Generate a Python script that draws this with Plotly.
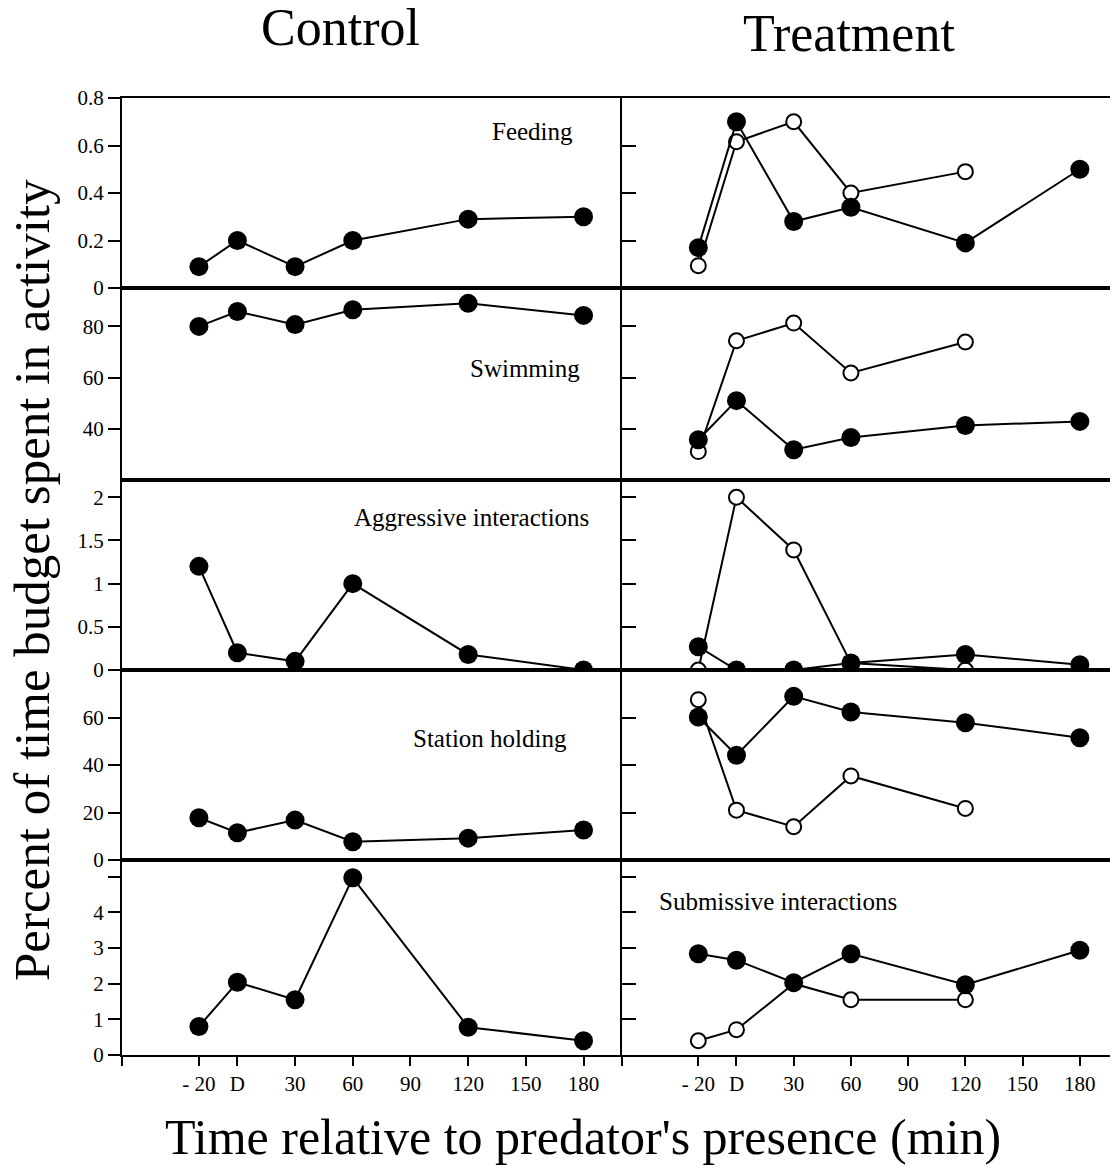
import plotly.graph_objects as go

# ---- data ----
times = [-20, 0, 30, 60, 120, 180]
times_open = [-20, 0, 30, 60, 120]
tick_vals = [-60, -20, 0, 30, 60, 90, 120, 150, 180]
tick_text = ["", "- 20", "D", "30", "60", "90", "120", "150", "180"]

panel_names = ["Feeding", "Swimming", "Aggressive interactions", "Station holding", "Submissive interactions"]

control_feeding = [0.09, 0.2, 0.09, 0.2, 0.29, 0.3]
control_swimming = [80, 85.8, 80.7, 86.5, 89, 84.3]
control_aggressive = [1.2, 0.2, 0.1, 1.0, 0.18, 0.0]
control_station = [17.8, 11.5, 16.8, 7.7, 9.2, 12.6]
control_submissive = [0.8, 2.04, 1.55, 4.97, 0.78, 0.4]

treat_filled_feeding = [0.17, 0.70, 0.28, 0.34, 0.19, 0.50]
treat_filled_swimming = [35.7, 51, 31.8, 36.6, 41.3, 42.9]
treat_filled_aggressive = [0.27, 0.0, 0.0, 0.08, 0.18, 0.06]
treat_filled_station = [60.2, 44.1, 68.9, 62.3, 57.8, 51.5]
treat_filled_submissive = [2.84, 2.66, 2.03, 2.84, 1.97, 2.94]

treat_open_feeding = [0.094, 0.616, 0.70, 0.40, 0.49]
treat_open_swimming = [31.1, 74.4, 81.3, 61.8, 73.9]
treat_open_aggressive = [0.0, 2.0, 1.39, 0.08, 0.0]
treat_open_station = [67.5, 21, 14, 35.4, 21.7]
treat_open_submissive = [0.4, 0.71, 2.0, 1.55, 1.55]

y_ranges = [[0, 0.8], [20, 95], [0, 2.2], [0, 80], [0, 5.47]]
left_tickvals = [[0, 0.2, 0.4, 0.6, 0.8], [40, 60, 80], [0, 0.5, 1, 1.5, 2], [0, 20, 40, 60], [0, 1, 2, 3, 4, 5]]
left_ticktext = [["0", "0.2", "0.4", "0.6", "0.8"], ["40", "60", "80"], ["0", "0.5", "1", "1.5", "2"],
                 ["0", "20", "40", "60"], ["0", "1", "2", "3", "4", ""]]
right_tickvals = [[0.2, 0.4, 0.6], [40, 60, 80], [0.5, 1, 1.5, 2], [20, 40, 60], [1, 2, 3, 4, 5]]

controls = [control_feeding, control_swimming, control_aggressive, control_station, control_submissive]
filled = [treat_filled_feeding, treat_filled_swimming, treat_filled_aggressive, treat_filled_station, treat_filled_submissive]
opened = [treat_open_feeding, treat_open_swimming, treat_open_aggressive, treat_open_station, treat_open_submissive]

# ---- layout geometry (reference pixels; page body has an 8px margin) ----
OFF = 8
W, H = 1118 - OFF, 1168 - OFF
ref_left, ref_right, ref_top, ref_bottom = 122, 1118, 98, 1055
L = ref_left - OFF
R = (1118 - OFF) - (ref_right - OFF)
T = ref_top - OFF
B = H - (ref_bottom - OFF)
plot_w = W - L - R
plot_h = H - T - B
mid_px = 622
bounds_px = [98, 288, 480, 670, 860, 1055]

FONT = "Liberation Serif"
fig = go.Figure()
layout = {}

def px_x(p):
    return (p - ref_left) / plot_w

def px_y(p):
    return (ref_bottom - p) / plot_h

for i in range(5):
    ydom = [px_y(bounds_px[i + 1]), px_y(bounds_px[i])]
    for side in range(2):
        idx = i * 2 + side + 1
        xn = "xaxis" if idx == 1 else f"xaxis{idx}"
        yn = "yaxis" if idx == 1 else f"yaxis{idx}"
        xr = "x" if idx == 1 else f"x{idx}"
        yr = "y" if idx == 1 else f"y{idx}"
        xdom = [0, px_x(mid_px)] if side == 0 else [px_x(mid_px), 1]
        bottom = (i == 4)
        layout[xn] = dict(domain=xdom, anchor=yr, range=[-60, 200], showgrid=False, zeroline=False,
                          showline=True, linecolor="black", linewidth=2, mirror=True,
                          tickvals=tick_vals, ticktext=tick_text, showticklabels=bottom,
                          ticks="outside" if bottom else "", ticklen=9, tickwidth=2, tickcolor="black",
                          tickfont=dict(family=FONT, size=21, color="black"))
        if side == 0:
            layout[yn] = dict(domain=ydom, anchor=xr, range=y_ranges[i], showgrid=False, zeroline=False,
                              showline=True, linecolor="black", linewidth=2,
                              tickvals=left_tickvals[i], ticktext=left_ticktext[i],
                              ticks="outside", ticklen=12, tickwidth=2, tickcolor="black",
                              tickfont=dict(family=FONT, size=21, color="black"))
        else:
            layout[yn] = dict(domain=ydom, anchor=xr, range=y_ranges[i], showgrid=False, zeroline=False,
                              showline=True, linecolor="black", linewidth=2,
                              tickvals=right_tickvals[i], showticklabels=False,
                              ticks="inside", ticklen=14, tickwidth=2, tickcolor="black")
        if side == 0:
            fig.add_trace(go.Scatter(x=times, y=controls[i], mode="lines+markers", xaxis=xr, yaxis=yr,
                                     line=dict(color="black", width=2),
                                     marker=dict(size=19, color="black"), showlegend=False))
        else:
            fig.add_trace(go.Scatter(x=times_open, y=opened[i], mode="lines+markers", xaxis=xr, yaxis=yr,
                                     line=dict(color="black", width=2),
                                     marker=dict(size=15, color="white", line=dict(color="black", width=2)),
                                     showlegend=False))
            fig.add_trace(go.Scatter(x=times, y=filled[i], mode="lines+markers", xaxis=xr, yaxis=yr,
                                     line=dict(color="black", width=2),
                                     marker=dict(size=19, color="black"), showlegend=False))

annotations = []
label_pos = [(1, 0.82, 0.826), (3, 0.806, 0.583), (5, 0.698, 0.805), (7, 0.736, 0.642), (10, 0.315, 0.785)]
for (idx, xd, yd), name in zip(label_pos, panel_names):
    xr = "x" if idx == 1 else f"x{idx}"
    yr = "y" if idx == 1 else f"y{idx}"
    annotations.append(dict(text=name, x=xd, y=yd, xref=f"{xr} domain", yref=f"{yr} domain",
                            showarrow=False, xanchor="center", yanchor="middle",
                            font=dict(family=FONT, size=25, color="black")))

annotations.append(dict(text="Control", x=px_x(340), y=px_y(28), xref="paper", yref="paper", showarrow=False,
                        xanchor="center", yanchor="middle", font=dict(family=FONT, size=52, color="black")))
annotations.append(dict(text="Treatment", x=px_x(849), y=px_y(33), xref="paper", yref="paper", showarrow=False,
                        xanchor="center", yanchor="middle", font=dict(family=FONT, size=52, color="black")))
annotations.append(dict(text="Time relative to predator's presence (min)", x=px_x(583), y=px_y(1137),
                        xref="paper", yref="paper", showarrow=False, xanchor="center", yanchor="middle",
                        font=dict(family=FONT, size=50, color="black")))
annotations.append(dict(text="Percent of time budget spent in activity", x=px_x(32), y=px_y(580),
                        xref="paper", yref="paper", showarrow=False, xanchor="center", yanchor="middle",
                        textangle=-90, font=dict(family=FONT, size=51, color="black")))

fig.update_layout(**layout)
fig.update_layout(width=W, height=H, margin=dict(l=L, r=R, t=T, b=B), plot_bgcolor="white",
                  paper_bgcolor="white", annotations=annotations, showlegend=False)

fig.write_html("out.html")
